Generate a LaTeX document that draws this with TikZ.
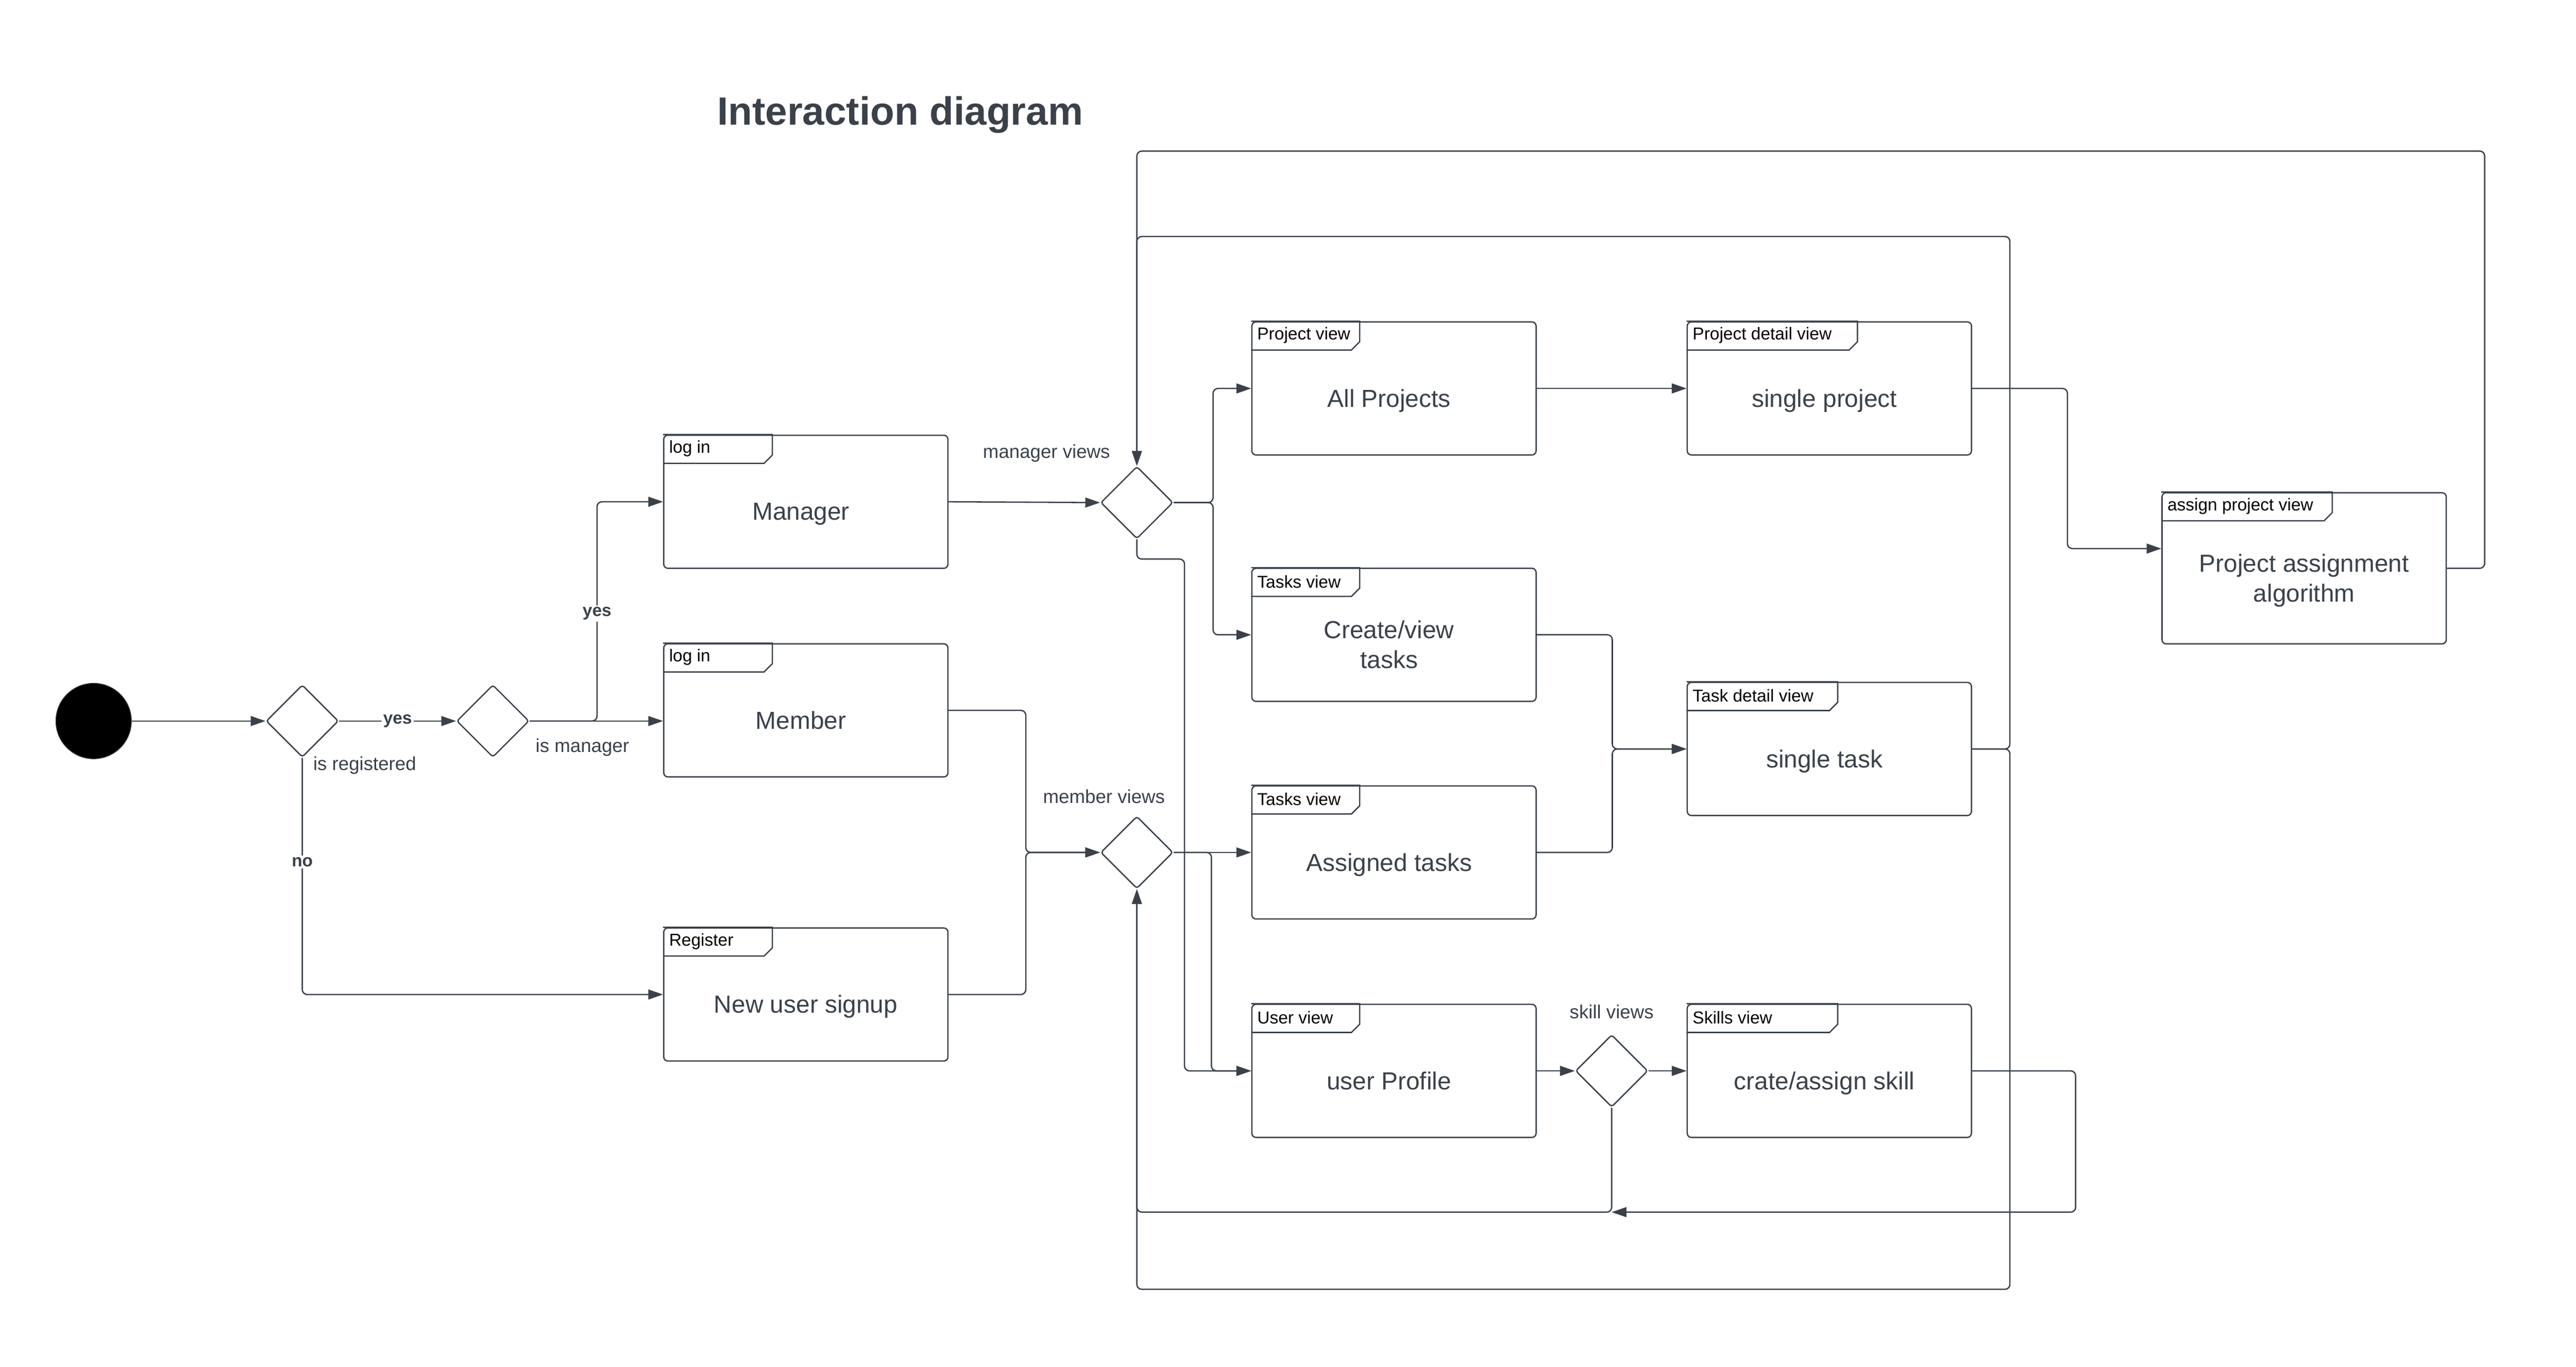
\documentclass[tikz,border=0pt]{standalone}
\usepackage{fontspec}
\setmainfont{Liberation Sans}
\usetikzlibrary{shapes.geometric,arrows.meta,positioning}
\definecolor{ink}{HTML}{3A414A}

\tikzset{
  viewbox/.style={draw=ink, line width=0.8pt, rounded corners=2.5pt, minimum width=173pt, minimum height=81pt, inner sep=0pt},
  frameline/.style={draw=ink, line width=0.8pt},
  tabtext/.style={anchor=west, inner sep=0pt, text=black, font=\fontsize{10.5}{12}\selectfont},
  bodytext/.style={inner sep=0pt, text=ink, align=center, text depth=3.2pt, font=\fontsize{15}{18}\selectfont},
  choice/.style={shape=diamond, draw=ink, line width=0.8pt, minimum width=44pt, minimum height=44pt, inner sep=0pt, rounded corners=1.5pt},
  startdot/.style={circle, fill=black, draw=ink, minimum size=46pt, inner sep=0pt},
  flow/.style={draw=ink, line width=0.8pt, rounded corners=3pt, -{Triangle[length=9pt,width=6pt]}},
  edgelabel/.style={text=ink, inner sep=1pt, font=\fontsize{11.5}{13}\selectfont},
  yesno/.style={fill=white, text=ink, inner sep=1pt, font=\fontsize{10.5}{12}\selectfont\bfseries}
}

% frame with a tab: [height] name, position, tab width, tab text, body text, body x offset
\newcommand{\viewframe}[7][81]{%
  \node[viewbox, minimum height=#1pt] (#2) at (#3) {};
  \draw[frameline] (#2.north west) -- ++(#4,0) -- ++(0,12.5) -- ++(-5,5) -- ++({5-#4},0);
  \node[tabtext] at ([xshift=3.5pt,yshift=-8.5pt]#2.north west) {#5};
  \node[bodytext] at ([xshift=#7pt,yshift=-7.5pt]#2.center) {#6};
}

\begin{document}
\begin{tikzpicture}[x=1pt,y=-1pt]
  \useasboundingbox (0,0) rectangle (1568,832);

  \node[anchor=base west, text=ink, font=\fontsize{24}{28}\selectfont\bfseries] (title) at (433,76) {Interaction diagram};

  % start and first checks
  \node[startdot] (start) at (57,439) {};
  \node[choice] (reg) at (184,439) {};
  \node[choice] (mgrchk) at (300,439) {};

  % log in / register
  \viewframe{manager}{490.5,305.5}{66.5}{log in}{Manager}{-3}
  \viewframe{member}{490.5,432.5}{66.5}{log in}{Member}{-3}
  \viewframe{signup}{490.5,605.5}{66.5}{Register}{New user signup}{0}

  \node[choice] (mgrviews) at (692,306) {};
  \node[choice] (memviews) at (692,519) {};
  \node[choice] (skillviews) at (981,652) {};

  % views
  \viewframe{allproj}{848.5,236.5}{66}{Project view}{All Projects}{-3}
  \viewframe{singleproj}{1113.5,236.5}{104}{Project detail view}{single project}{-3}
  \viewframe{createtasks}{848.5,386.5}{66}{Tasks view}{Create/view\\tasks}{-3}
  \viewframe{singletask}{1113.5,456}{92}{Task detail view}{single task}{-3}
  \viewframe{assigned}{848.5,519}{66}{Tasks view}{Assigned tasks}{-3}
  \viewframe{profile}{848.5,652}{66}{User view}{user Profile}{-3}
  \viewframe{skill}{1113.5,652}{92}{Skills view}{crate/assign skill}{-3}
  \viewframe[92]{algo}{1402.5,346}{104}{assign project view}{Project assignment\\algorithm}{0}

  % labels
  \node[edgelabel] at (222,466) {is registered};
  \node[edgelabel] at (354.5,455) {is manager};
  \node[edgelabel] at (637,276) {manager views};
  \node[edgelabel] at (672,485) {member views};
  \node[edgelabel] at (981,616) {skill views};

  % connectors
  \draw[flow] (start) -- (reg);
  \draw[flow] (reg) -- node[yesno] {yes} (mgrchk);
  \draw[flow] (reg.south) |- node[yesno, pos=0.22] {no} (signup.west);
  \draw[flow] (mgrchk.east) -- ++(41,0) |- node[yesno, pos=0.245] {yes} (manager.west);
  \draw[flow] (mgrchk.east) -- (mgrchk.east -| member.west);

  \draw[flow] (manager.east) -- (mgrviews.west);
  \draw[flow] (member.east) -- ++(47,0) |- (memviews.west);
  \draw[flow] (signup.east) -- ++(47,0) |- (memviews.west);

  \draw[flow] (mgrviews.east) -- ++(24,0) |- (allproj.west);
  \draw[flow] (mgrviews.east) -- ++(24,0) |- (createtasks.west);
  \draw[flow] (mgrviews.south) |- ++(29,12) |- (profile.west);
  \draw[flow] (memviews.east) -- (assigned.west);
  \draw[flow] (memviews.east) -- ++(23,0) |- (profile.west);

  \draw[flow] (allproj.east) -- (singleproj.west);
  \draw[flow] (singleproj.east) -- ++(58,0) |- ([yshift=12pt]algo.west);
  \draw[flow] (algo.east) -| ++(23,-254) -| (mgrviews.north);
  \draw[flow] (singletask.east) -| ++(23,-312) -| (mgrviews.north);
  \draw[flow] (singletask.east) -| ++(23,329) -| (memviews.south);

  \draw[flow] (createtasks.east) -- ++(46,0) |- (singletask.west);
  \draw[flow] (assigned.east) -- ++(46,0) |- (singletask.west);

  \draw[flow] (profile.east) -- (skillviews.west);
  \draw[flow] (skillviews.east) -- (skill.west);
  \coordinate (skillback) at ([yshift=-86pt]skillviews.center);
  \draw[flow] (skillviews.south) -- (skillback) -| (memviews.south);
  \draw[flow] (skill.east) -| ++(63,86) -- (skillback);
\end{tikzpicture}
\end{document}
